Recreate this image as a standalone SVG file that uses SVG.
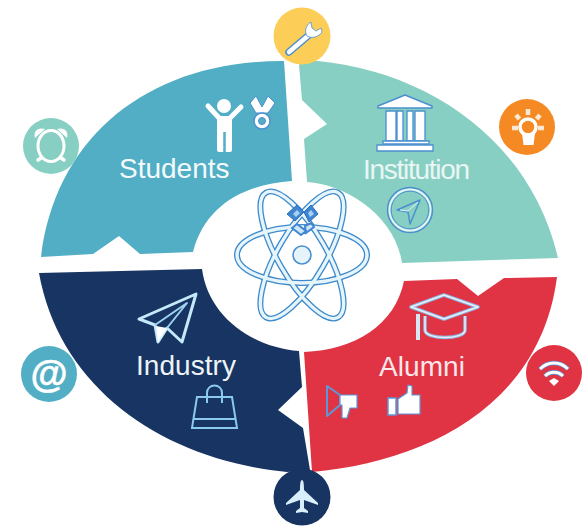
<svg xmlns="http://www.w3.org/2000/svg" width="585" height="526" viewBox="0 0 585 526">
<style>
.lbl{font-family:"Liberation Sans",Arial,sans-serif;font-size:28px;fill:#f4fafb}
.w{fill:#fff;stroke:none}
.orb{fill:none;stroke:#3d8acb;stroke-width:6}
.orb2{fill:none;stroke:#e6f5fb;stroke-width:3.4}
</style>
<defs>
<ellipse id="r0" cx="0" cy="0" rx="65" ry="28"/>
<ellipse id="r1" cx="0" cy="0" rx="72" ry="24"/>
</defs>
<rect width="585" height="526" fill="#fff"/>
<g id="students">
<path d="M284 61L292 181C245 184 205 205 193 252L140 254L119 236L93 254L41 257C56 135 150 60.500 284 61Z" fill="#52aec4"/>
<g id="students-icons">
<circle cx="224" cy="106" r="7" class="w"/>
<path d="M208 106L220 119M241 107L229 119" stroke="#fff" stroke-width="5" stroke-linecap="round"/>
<rect x="217" y="116" width="15" height="36" rx="2" class="w"/>
<path d="M224.500 132V152" stroke="#52aec4" stroke-width="2.500"/>
<path d="M250 103L256 96L262 107L268 96L275 103L268 113H256Z" fill="#fff" stroke="#4a90d0" stroke-width="1"/>
<circle cx="262" cy="121" r="8" fill="#fff" stroke="#4a90d0" stroke-width="1.500"/>
<circle cx="262" cy="121" r="3.500" fill="#52aec4" stroke="#4a90d0"/>
</g>
<text x="119" y="178" class="lbl">Students</text>
</g>
<g id="institution">
<path d="M299 65C300 63 310 61 318 61C430 72 531 141.600 558 258L402 263C395 215 345 184 307 182L304 139L327 124L302 100Z" fill="#88cfc3"/>
<g id="institution-icons">
<path d="M378 106L405 95L432 106V108H378Z" fill="#fff" stroke="#4a90d0" stroke-width="1.500" stroke-linejoin="round"/>
<path d="M386 111H396V141H386ZM397 111H403V141H397ZM407 111H413V141H407ZM415 111H425V141H415Z" fill="#fff" stroke="#4a90d0" stroke-width="1.300"/>
<path d="M383 141H429V144H383Z" fill="#fff" stroke="#4a90d0" stroke-width="1.300"/>
<path d="M377 145H433V151H377Z" fill="#fff" stroke="#4a90d0" stroke-width="1.300"/>
<circle cx="410" cy="210" r="22.500" fill="none" stroke="#4a90d0" stroke-width="1.400"/>
<circle cx="410" cy="210" r="20.500" fill="none" stroke="#e6f5f7" stroke-width="1.800"/>
<circle cx="410" cy="210" r="18.800" fill="none" stroke="#4a90d0" stroke-width="1"/>
<path d="M397 210L420 200L410 224L408 212Z" fill="#88cfc3" stroke="#4a90d0" stroke-width="1.500" stroke-linejoin="round"/>
<path d="M400 210L408 211L418 202" fill="none" stroke="#e6f5f7"/>
</g>
<text x="363" y="179" class="lbl" textLength="107" style="fill:#e9f6f4">Institution</text>
</g>
<g id="alumni">
<path d="M404 281L457 279L478 296L504 278L557 277C540 408 423 462 312 472L304 352C355 350 395 325 404 281Z" fill="#e03444"/>
<g id="alumni-icons">
<path d="M411 307L444 295L478 307L444 319Z" fill="#e03444" stroke="#8fb7e4" stroke-width="3.500" stroke-linejoin="round"/>
<path d="M411 307L444 295L478 307L444 319Z" fill="none" stroke="#e8f1fa" stroke-width="1.500" stroke-linejoin="round"/>
<path d="M425 316V330C425 340 465 340 465 330V316" fill="none" stroke="#8fb7e4" stroke-width="3.500"/>
<path d="M425 316V330C425 340 465 340 465 330V316" fill="none" stroke="#e8f1fa" stroke-width="1.500"/>
<path d="M418 314V340" fill="none" stroke="#d6e6f5" stroke-width="4"/>
<path d="M327 386L340 395V405L327 416Z" fill="#e03444" stroke="#5d97da" stroke-width="2" stroke-linejoin="round"/>
<path d="M340 395H357V408H350L347 418H342V405H340Z" fill="#fff" stroke="#5d97da" stroke-width="1.200" stroke-linejoin="round"/>
<path d="M388 398H396V415H388Z" fill="#fff" stroke="#5d97da" stroke-width="1.500"/>
<path d="M398 399L407 393L408 385L412 386L412 395H420V414H398Z" fill="#fff" stroke="#5d97da" stroke-width="1.200" stroke-linejoin="round"/>
</g>
<text x="379" y="376" class="lbl" textLength="86" style="fill:#fbe7ea">Alumni</text>
</g>
<g id="industry">
<path d="M39 273L202 269C208 315 250 347 299 351L302 387L278 410L303 428L310 470L287 472C165 460 60 390 39 273Z" fill="#173462"/>
<g id="industry-icons">
<path d="M139 319L196 294L182 342L167 328L158 342L155 325Z" fill="none" stroke="#c4e9fa" stroke-width="3" stroke-linejoin="round"/>
<path d="M155 325L187 303L167 328" fill="none" stroke="#9dd3f0" stroke-width="2" stroke-linejoin="round"/>
<path d="M158 342L156 326L167 328Z" fill="#fff"/>
<path d="M197 397H232L237 428H192Z" fill="none" stroke="#8cc9ee" stroke-width="2"/>
<path d="M193 419H236" stroke="#8cc9ee" stroke-width="2"/>
<path d="M207 403V393C207 383 222 383 222 393V403" fill="none" stroke="#8cc9ee" stroke-width="2"/>
</g>
<text x="136" y="375" class="lbl" textLength="100" style="fill:#eef3f8">Industry</text>
</g>
<g id="hub">
<g id="atom">
<use href="#r0" class="orb" transform="translate(302 255)"/>
<use href="#r1" class="orb" transform="translate(302 255) rotate(60)"/>
<use href="#r1" class="orb" transform="translate(302 255) rotate(-60)"/>
<use href="#r0" class="orb2" transform="translate(302 255)"/>
<use href="#r1" class="orb2" transform="translate(302 255) rotate(60)"/>
<use href="#r1" class="orb2" transform="translate(302 255) rotate(-60)"/>
<circle cx="302" cy="255" r="9" fill="#e6f3fb" stroke="#4a90d0" stroke-width="1.600"/>
<path d="M287 214L297 205L304 212L295 221ZM304 212L311 205L318 214L309 222Z" fill="#3f86d0" stroke="#2c6fbe"/>
<path d="M293 214L297 210L300 213L296 217ZM308 213L311 210L314 214L310 217Z" fill="#a9d0f0"/>
<path d="M292 228L297 224L306 231L301 235ZM305 226L311 223L314 227L306 233Z" fill="#cfe6f8" stroke="#3f86d0" stroke-width="2"/>
</g>
</g>
<g id="badge-wrench">
<circle cx="302" cy="36" r="28.500" fill="#fccd57"/>
<path d="M289 52L309 35" stroke="#4a90d0" stroke-width="7.500" stroke-linecap="round"/>
<path d="M289 52L309 35" stroke="#fff" stroke-width="4.500" stroke-linecap="round"/>
<path d="M311 22C306 25 304 31 307 36C312 39 319 37 322 32L321 28L316 31L312 28Z" fill="#fff" stroke="#4a90d0" stroke-width=".8"/>
</g>
<g id="badge-bulb">
<circle cx="527" cy="127" r="28" fill="#f58a24"/>
<circle cx="528" cy="127" r="8" fill="none" stroke="#fff" stroke-width="3.500"/>
<path d="M522 133L523.500 145H533.500L535 133Z" fill="#fff"/>
<path d="M528 109V115M516 115L519.500 119M540 115L536.500 119M512 128H518M538 128H544" stroke="#fde8d2" stroke-width="4.500"/>
</g>
<g id="badge-clock">
<circle cx="51" cy="146" r="28" fill="#88cfc3"/>
<ellipse cx="51" cy="146" rx="13" ry="15.500" fill="none" stroke="#fff" stroke-width="3"/>
<path d="M35 138C33 131 38 127 45 129ZM67 138C69 131 64 127 57 129Z" fill="#fff"/>
<path d="M41 158L38 160M61 158L64 160" stroke="#fff" stroke-width="3.500" stroke-linecap="round"/>
</g>
<g id="badge-at">
<circle cx="49" cy="374" r="28" fill="#52aec4"/>
<text x="49" y="387" text-anchor="middle" font-family="Liberation Sans, Arial, sans-serif" font-size="38" font-weight="700" fill="#fff" stroke="#fff" stroke-width=".5">@</text>
</g>
<g id="badge-wifi">
<circle cx="554" cy="373" r="28" fill="#e03444"/>
<path d="M540 369C548 361 560 361 568 369" fill="none" stroke="#5d97da" stroke-width="4.500"/>
<path d="M545 376C550 371 558 371 563 376" fill="none" stroke="#5d97da" stroke-width="4.500"/>
<path d="M540 369C548 361 560 361 568 369" fill="none" stroke="#fff" stroke-width="2.800"/>
<path d="M545 376C550 371 558 371 563 376" fill="none" stroke="#fff" stroke-width="2.800"/>
<path d="M549 381L554 378L559 381L554 386Z" fill="#fff"/>
</g>
<g id="badge-plane">
<circle cx="302" cy="497" r="28.500" fill="#173462"/>
<path d="M302 480C303.500 480 304 484 304 490L318 503V505L304 500V508L308 511V513L302 512L296 513V511L300 508V500L286 505V503L300 490C300 484 300.500 480 302 480Z" fill="#d8eefa"/>
</g>
</svg>
